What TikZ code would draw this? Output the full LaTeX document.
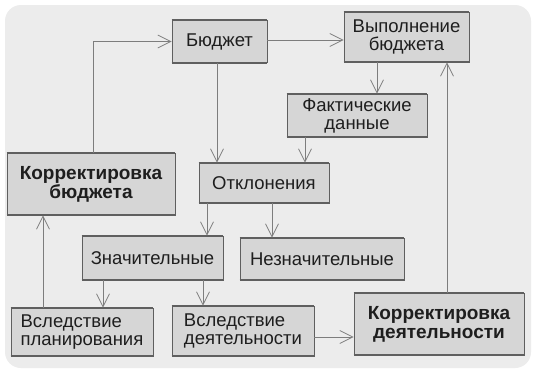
\documentclass[tikz,border=0pt]{standalone}
\usepackage{fontspec}
\setmainfont{Liberation Sans}
\usetikzlibrary{arrows.meta,calc}
\definecolor{bgc}{RGB}{236,236,236}
\definecolor{boxc}{RGB}{214,214,214}
\definecolor{edgec}{RGB}{95,95,95}
\definecolor{linec}{RGB}{125,125,125}
\definecolor{txtc}{RGB}{30,30,30}
\tikzset{
  box/.style={rectangle, fill=boxc, draw=edgec, line width=0.6pt, inner sep=0pt,
    text=txtc, font=\fontsize{18.5}{18}\selectfont, align=center},
  boldbox/.style={box, font=\fontsize{19}{19}\selectfont\bfseries},
  arr/.style={draw=linec, line width=0.8pt, -{Straight Barb[length=13pt,width=13pt,line width=0.8pt]}},
  edgeline/.style={draw=edgec, line width=2pt}
}
\begin{document}
\begin{tikzpicture}[x=1pt,y=-1pt]
\useasboundingbox (0,0) rectangle (537,373);
\fill[white] (0,0) rectangle (537,373);
\fill[bgc, rounded corners=16pt] (5,5) rectangle (531,368);

\node[box, minimum width=95pt, minimum height=42pt] (budget) at (219.5,41.5) {Бюджет};
\node[box, minimum width=125pt, minimum height=50pt] (exec) at (406.5,37) {Выполнение\\бюджета};
\node[box, minimum width=140pt, minimum height=43pt] (fact) at (357,115.5) {Фактические\\данные};
\node[boldbox, minimum width=168pt, minimum height=62pt] (corrb) at (91,184) {Корректировка\\бюджета};
\node[box, minimum width=130pt, minimum height=40pt] (dev) at (264,183) {Отклонения};
\node[box, minimum width=141pt, minimum height=44pt] (sig) at (152.5,258) {Значительные};
\node[box, minimum width=164pt, minimum height=42pt] (insig) at (322,259) {Незначительные};
\node[box, minimum width=142pt, minimum height=48pt, align=left] (plan) at (82,332) {Вследствие\\планирования};
\node[box, minimum width=142pt, minimum height=50pt, align=left] (act) at (243,331) {Вследствие\\деятельности};
\node[boldbox, minimum width=170pt, minimum height=62pt] (corra) at (439,324) {Корректировка\\деятельности};

\foreach \n in {budget,exec,fact,corrb,dev,sig,insig,plan,act,corra}{
  \draw[edgeline] (\n.north west) -- (\n.north east);
  \draw[edgeline] (\n.south west) -- (\n.south east);
}

\draw[arr] ([xshift=2pt]corrb.north) |- (budget.west);
\draw[arr] ([yshift=1.5pt]budget.east) -- ([yshift=1.5pt]budget.east -| exec.west);
\draw[arr] ([xshift=-2.5pt]budget.south) -- ([xshift=-2.5pt]budget.south |- dev.north);
\draw[arr] ([xshift=-29.5pt]exec.south) -- ([xshift=-29.5pt]exec.south |- fact.north);
\draw[arr] ([xshift=-52pt]fact.south) -- ([xshift=-52pt]fact.south |- dev.north);
\draw[arr] ([xshift=-57pt]dev.south) -- ([xshift=-57pt]dev.south |- sig.north);
\draw[arr] ([xshift=8pt]dev.south) -- ([xshift=8pt]dev.south |- insig.north);
\draw[arr] ([xshift=-49.5pt]sig.south) -- ([xshift=-49.5pt]sig.south |- plan.north);
\draw[arr] ([xshift=50.5pt]sig.south) -- ([xshift=50.5pt]sig.south |- act.north);
\draw[arr] ([xshift=-39pt]plan.north) -- ([xshift=-39pt]plan.north |- corrb.south);
\draw[arr] ([yshift=-6pt]act.east) -- ([yshift=-6pt]act.east -| corra.west);
\draw[arr] ([xshift=8pt]corra.north) -- ([xshift=8pt]corra.north |- exec.south);
\end{tikzpicture}
\end{document}
